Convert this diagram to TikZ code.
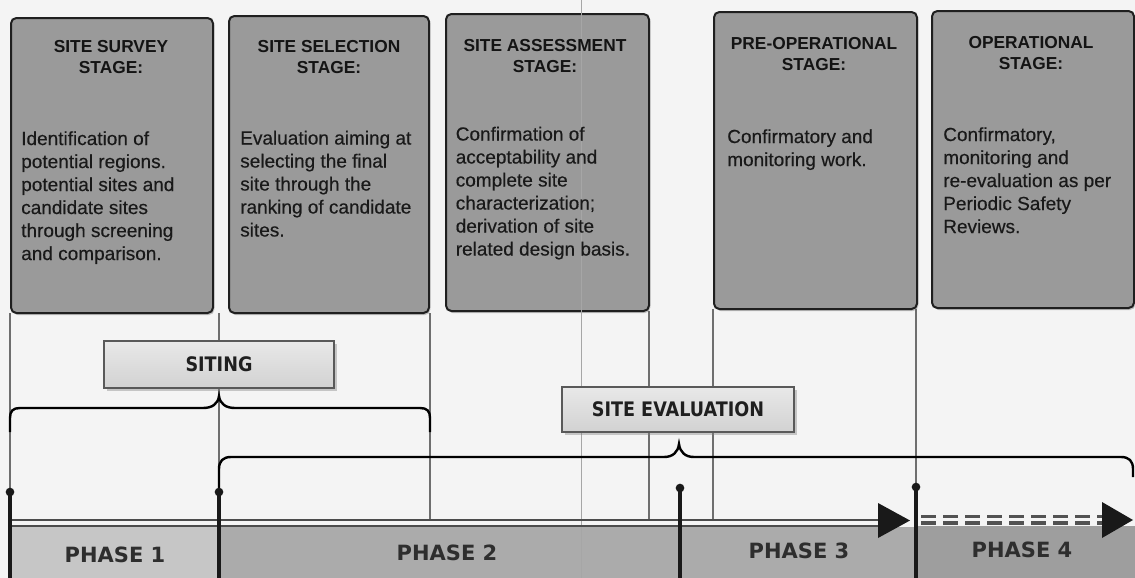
\documentclass[tikz,border=0pt]{standalone}
\usepackage{fontspec}
\setmainfont{Liberation Sans}
\newfontfamily\bodyfont[FakeBold=0.4]{Liberation Sans}
\newfontfamily\labfont[FakeStretch=0.88]{DejaVu Sans}
\newfontfamily\phfont{DejaVu Sans}
\usetikzlibrary{shadows}
\definecolor{bg}{HTML}{F4F4F4}
\definecolor{boxgray}{HTML}{9A9A9A}
\definecolor{phaseA}{HTML}{C6C6C6}
\definecolor{phaseB}{HTML}{ABABAB}
\definecolor{phaseC}{HTML}{9E9E9E}
\definecolor{labtop}{HTML}{E8E8E8}
\definecolor{labbot}{HTML}{D2D2D2}
\definecolor{gline}{HTML}{6E6E6E}
\begin{document}
\begin{tikzpicture}[x=0.75pt,y=-0.75pt,
  stagebox/.style={draw=black!88, line width=1.5pt, fill=boxgray, rounded corners=4pt,
     inner sep=0pt, anchor=north west,
     drop shadow={shadow xshift=1pt, shadow yshift=-1.5pt, opacity=0.45}},
  ttl/.style={font=\fontsize{13}{15.75}\selectfont\bfseries, align=center, anchor=north, inner sep=0pt, text=black!92},
  bodytxt/.style={font=\bodyfont\fontsize{14.25}{17.25}\selectfont, align=left, anchor=north west, inner sep=0pt, text=black!90},
  labbox/.style={draw=black!65, line width=0.8pt, top color=labtop, bottom color=labbot, inner sep=0pt,
     font=\labfont\bfseries\fontsize{15}{18}\selectfont, text=black!88,
     drop shadow={shadow xshift=2pt, shadow yshift=-2pt, opacity=0.4}},
  phtxt/.style={font=\phfont\bfseries\fontsize{15.75}{18}\selectfont, text=black!82, inner sep=0pt},
  gridline/.style={draw=gline, line width=1.1pt},
  bracestyle/.style={draw=black, line width=1.8pt},
  milestone/.style={draw=black!90, line width=2.3pt},
  dotm/.style={circle, fill=black!90, inner sep=0pt, minimum size=6.5pt},
  arrowline/.style={draw=black!70, line width=1.6pt},
  dashline/.style={draw=black!68, line width=2.4pt, dash pattern=on 11.25pt off 5.25pt},
  headfill/.style={fill=black!90}
]
\useasboundingbox (0,0) rectangle (1135,578);
\fill[bg] (0,0) rectangle (1135,578);

% phase bands
\fill[phaseA] (10,527) rectangle (219,578);
\fill[phaseB] (219,527) rectangle (916,578);
\fill[phaseC] (916,526) rectangle (1135,578);

% stage boxes
\node[stagebox, minimum width=151.5pt, minimum height=221.25pt] (s1) at (10,17) {};
\node[stagebox, minimum width=150pt, minimum height=222.75pt] (s2) at (228,15) {};
\node[stagebox, minimum width=152.25pt, minimum height=222.75pt] (s3) at (445,13) {};
\node[stagebox, minimum width=152.25pt, minimum height=222.75pt] (s4) at (713,11) {};
\node[stagebox, minimum width=151.5pt, minimum height=222.75pt] (s5) at (931,10) {};

% coordinates
\coordinate (g1t) at (10,313);   \coordinate (g1b) at (10,492);
\coordinate (g2t) at (219,313);  \coordinate (g2b) at (219,492);
\coordinate (g3t) at (430,313);  \coordinate (g3b) at (430,519);
\coordinate (g4t) at (649,311);  \coordinate (g4b) at (649,519);
\coordinate (g5t) at (713,309);  \coordinate (g5b) at (713,519);
\coordinate (g6t) at (916,309);  \coordinate (g6b) at (916,487);
\coordinate (art1) at (581,0);   \coordinate (art2) at (581,578);

% thin grid lines
\draw[gridline] (g1t) -- (g1b);
\draw[gridline] (g2t) -- (g2b);
\draw[gridline] (g3t) -- (g3b);
\draw[gridline] (g4t) -- (g4b);
\draw[gridline] (g5t) -- (g5b);
\draw[gridline] (g6t) -- (g6b);
\draw[black!35, line width=0.6pt] (art1) -- (art2);

% label boxes
\node[labbox, minimum width=172.5pt, minimum height=35.25pt] (siting) at (219,364.5) {SITING};
\node[labbox, minimum width=174pt, minimum height=33.75pt] (seval) at (678,409.5) {SITE EVALUATION};

% braces
\draw[bracestyle] (10,432) -- (10,418) .. controls (10,411) and (13,408) .. (20,408)
  -- (203,408) .. controls (212,408) and (218,404) .. (219,396)
  .. controls (220,404) and (226,408) .. (235,408) -- (420,408)
  .. controls (427,408) and (430,411) .. (430,418) -- (430,432);
\draw[bracestyle] (219,488) -- (219,469) .. controls (219,461) and (223,457) .. (231,457)
  -- (664,457) .. controls (673,457) and (678,452) .. (679,444)
  .. controls (680,452) and (685,457) .. (694,457) -- (1121,457)
  .. controls (1129,457) and (1133,461) .. (1133,469) -- (1133,477);

% time arrow
\coordinate (a1s) at (10,520);  \coordinate (a1e) at (882,520);
\coordinate (a2s) at (10,526);  \coordinate (a2e) at (882,526);
\draw[arrowline] (a1s) -- (a1e);
\draw[arrowline] (a2s) -- (a2e);
\fill[headfill] (878,503) -- (878,538) -- (910,520.5) -- cycle;
\coordinate (b1s) at (921,516.5); \coordinate (b1e) at (1104,516.5);
\coordinate (b2s) at (921,523);   \coordinate (b2e) at (1104,523);
\draw[dashline] (b1s) -- (b1e);
\draw[dashline] (b2s) -- (b2e);
\fill[headfill] (1102,502) -- (1102,538) -- (1133,520) -- cycle;

% milestones
\node[dotm] (d1) at (10,492) {};
\node[dotm] (d2) at (219,492) {};
\node[dotm] (d3) at (680,488) {};
\node[dotm] (d4) at (916,487) {};
\coordinate (e1) at (10,578);
\coordinate (e2) at (219,578);
\coordinate (e3) at (680,578);
\coordinate (e4) at (916,578);
\draw[milestone] (d1.center) -- (e1);
\draw[milestone] (d2.center) -- (e2);
\draw[milestone] (d3.center) -- (e3);
\draw[milestone] (d4.center) -- (e4);

% phase labels
\node[phtxt] (p1) at (115,555) {PHASE 1};
\node[phtxt] (p2) at (447,553) {PHASE 2};
\node[phtxt] (p3) at (799,551) {PHASE 3};
\node[phtxt] (p4) at (1022,550) {PHASE 4};

% titles
\node[ttl] (t1) at (111,40) {SITE SURVEY\\STAGE:};
\node[ttl] (t2) at (329,40) {SITE SELECTION\\STAGE:};
\node[ttl] (t3) at (545,39) {SITE ASSESSMENT\\STAGE:};
\node[ttl] (t4) at (814,37) {PRE-OPERATIONAL\\STAGE:};
\node[ttl] (t5) at (1031,36) {OPERATIONAL\\STAGE:};

% body texts
\node[bodytxt] (x1) at (21,131) {Identification of\\potential regions.\\potential sites and\\candidate sites\\through screening\\and comparison.};
\node[bodytxt] (x2) at (240,130.5) {Evaluation aiming at\\selecting the final\\site through the\\ranking of candidate\\sites.};
\node[bodytxt] (x3) at (455.5,126.5) {Confirmation of\\acceptability and\\complete site\\characterization;\\derivation of site\\related design basis.};
\node[bodytxt] (x4) at (727,129) {Confirmatory and\\monitoring work.};
\node[bodytxt] (x5) at (943,127) {Confirmatory,\\monitoring and\\re-evaluation as per\\Periodic Safety\\Reviews.};
\end{tikzpicture}
\end{document}
